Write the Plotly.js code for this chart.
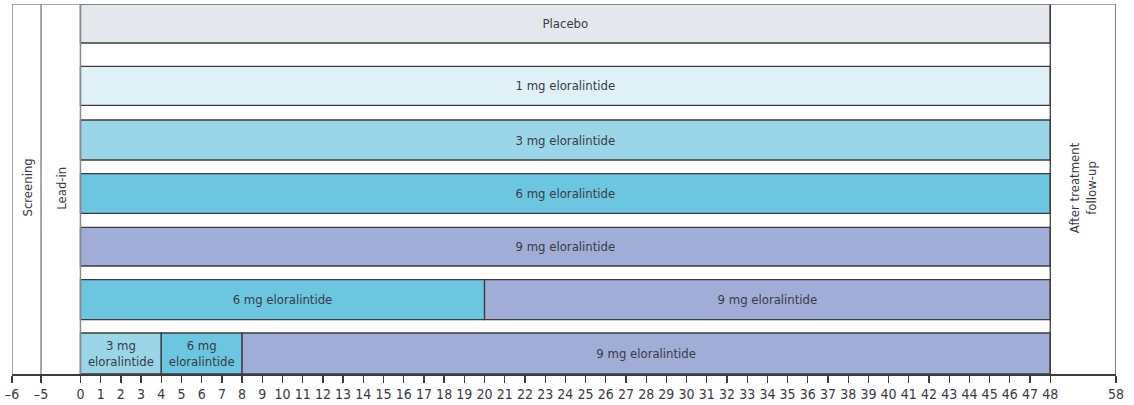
<!DOCTYPE html>
<html>
<head>
<meta charset="utf-8">
<script src="https://cdn.plot.ly/plotly-3.0.1.min.js"></script>
<style>html,body{margin:0;padding:0;background:#fff}#chart{width:1134px;height:405px}</style>
</head>
<body>
<div id="chart"></div>
<script>
// ---- data ----
const tickWeeks = [-6,-5,0,1,2,3,4,5,6,7,8,9,10,11,12,13,14,15,16,17,18,19,20,21,22,23,24,25,26,27,28,29,30,31,32,33,34,35,36,37,38,39,40,41,42,43,44,45,46,47,48,58];
const tickLabels = tickWeeks.map(w => w < 0 ? '\u2013' + Math.abs(w) : String(w));

// treatment segments (row index: 0 = top)
const segRow   = [0, 1, 2, 3, 4, 5, 5, 6, 6, 6];
const segStart = [0, 0, 0, 0, 0, 0, 20, 0, 4, 8];
const segEnd   = [48, 48, 48, 48, 48, 20, 48, 4, 8, 48];
const segLabel = ['Placebo', '1 mg eloralintide', '3 mg eloralintide', '6 mg eloralintide', '9 mg eloralintide',
                  '6 mg eloralintide', '9 mg eloralintide', '3 mg<br>eloralintide', '6 mg<br>eloralintide', '9 mg eloralintide'];
const segDose  = ['placebo', '1', '3', '6', '9', '6', '9', '3', '6', '9'];

// study phases
const phaseNames = ['Screening', 'Lead-in', 'After treatment<br>follow-up'];
const phaseStart = [-6, -5, 48];
const phaseEnd   = [-5, 0, 58];

// ---- styles / layout helpers ----
const doseColor = {placebo: '#e4e8ec', '1': '#dff0f7', '3': '#9bd6e8', '6': '#6cc6df', '9': '#a0aed7'};
// row vertical extents in pixels from axis line (bottom, top)
const rowBottom = [331, 268.7, 214, 160.7, 108, 54.3, 0];
const rowTop    = [370, 307.7, 254, 200.3, 146.7, 94.3, 41];

// broken-axis scale: week -> display position
const bpWeek = [-6, -5, 0, 48, 58];
const bpPos  = [-3.388, -1.951, 0, 48, 51.254];
function d(w) {
  for (let i = 0; i < bpWeek.length - 1; i++) {
    if (w <= bpWeek[i + 1] || i === bpWeek.length - 2) {
      const t = (w - bpWeek[i]) / (bpWeek[i + 1] - bpWeek[i]);
      return bpPos[i] + t * (bpPos[i + 1] - bpPos[i]);
    }
  }
}

const FONT = '"Liberation Sans Narrow", "DejaVu Sans Condensed", "Liberation Sans", Arial, sans-serif';
const TXT = '#3a3a44';

const bars = {
  type: 'bar', orientation: 'h',
  base: segStart.map(d),
  x: segStart.map((s, i) => d(segEnd[i]) - d(s)),
  y: segRow.map(r => (rowBottom[r] + rowTop[r]) / 2),
  width: segRow.map(r => rowTop[r] - rowBottom[r]),
  text: segLabel,
  textposition: 'inside', insidetextanchor: 'middle', constraintext: 'none',
  textfont: {family: FONT, size: 13, color: TXT},
  marker: {color: segDose.map(k => doseColor[k]), line: {color: '#3c3c3c', width: 1.3}},
  hoverinfo: 'skip', showlegend: false
};

const shapes = [];
// phase column boundaries
[-6, -5, 0].forEach(w => shapes.push({type: 'line', xref: 'x', yref: 'y', x0: d(w), x1: d(w), y0: 0, y1: 370,
  line: {color: '#8a8a8a', width: 1.5}}));
[48, 58].forEach(w => shapes.push({type: 'line', xref: 'x', yref: 'y', x0: d(w), x1: d(w), y0: 0, y1: 370,
  line: {color: '#3c3c3c', width: 1.3}}));
// top border
shapes.push({type: 'line', xref: 'x', yref: 'y', x0: d(-6), x1: d(58), y0: 370, y1: 370, line: {color: '#8a8a8a', width: 1.5}});

const annotations = phaseNames.map((n, i) => ({
  x: (d(phaseStart[i]) + d(phaseEnd[i])) / 2, y: 186, xref: 'x', yref: 'y',
  text: n, textangle: -90, showarrow: false,
  font: {family: FONT, size: 13, color: TXT}
}));

const layout = {
  width: 1134, height: 405,
  margin: {l: 12, r: 18, t: 4, b: 31},
  paper_bgcolor: '#fff', plot_bgcolor: '#fff',
  barmode: 'overlay', bargap: 0,
  xaxis: {range: [d(-6), d(58)], tickvals: tickWeeks.map(d), ticktext: tickLabels,
    showgrid: false, zeroline: false, showline: true, linecolor: '#3c3c3c', linewidth: 1.5,
    ticks: 'outside', ticklen: 7, tickwidth: 1.3, tickcolor: '#3c3c3c',
    tickfont: {family: FONT, size: 14, color: TXT}, fixedrange: true},
  yaxis: {range: [0, 370], visible: false, fixedrange: true},
  shapes: shapes, annotations: annotations
};

Plotly.newPlot('chart', [bars], layout, {staticPlot: true, displayModeBar: false});
</script>
</body>
</html>
